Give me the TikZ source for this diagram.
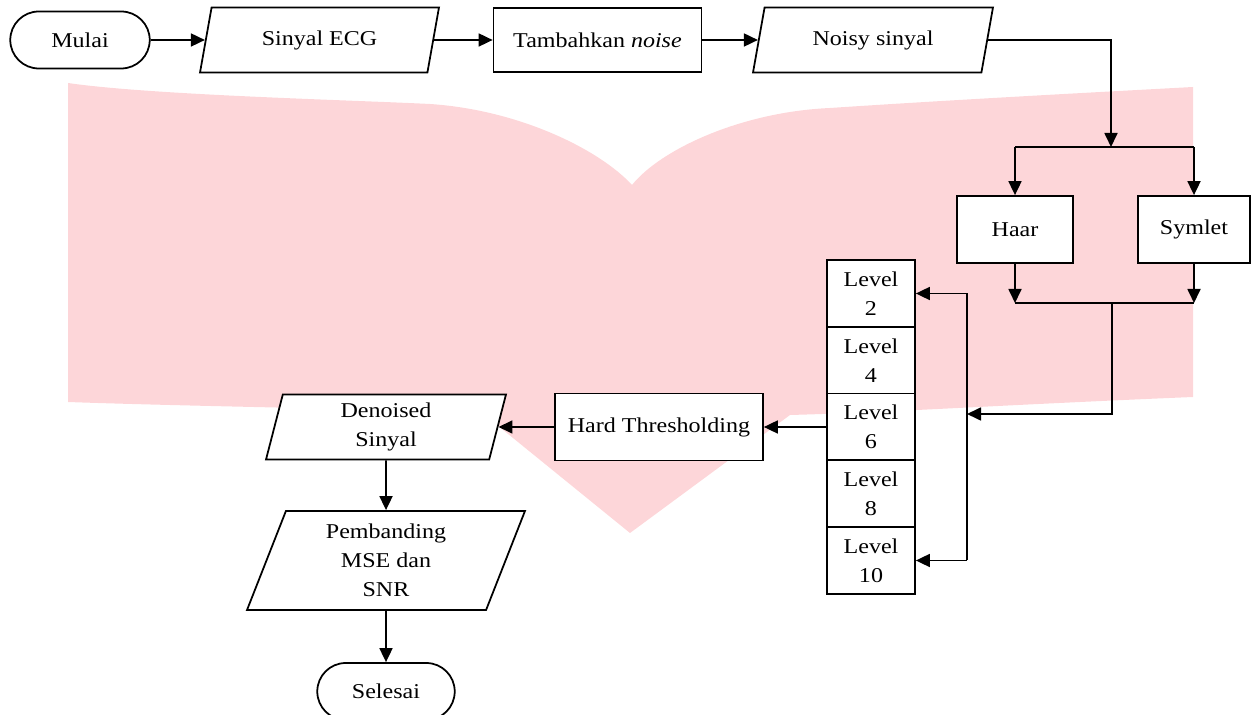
\documentclass[tikz,border=0pt]{standalone}
\usepackage{fontspec}
\setmainfont{Liberation Serif}[FakeStretch=1.14]
\usepackage{tikz}
\usetikzlibrary{shapes.geometric,shapes.misc,arrows.meta}
\definecolor{wmark}{RGB}{253,214,217}

\begin{document}
\begin{tikzpicture}[
    x=0.02cm,y=-0.02cm,
    base/.style={draw, fill=white, line width=1pt, align=center, inner sep=1pt,
      font=\fontsize{12}{16.5}\selectfont},
    box/.style={base, rectangle},
    term/.style={base, rounded rectangle, minimum width=2.86cm, minimum height=1.14cm},
    io/.style={base, trapezium, trapezium left angle=#1, trapezium right angle=180-#1,
      trapezium stretches body},
    arr/.style={line width=1pt, -{Triangle[length=2.8mm,width=2.6mm]}},
    line/.style={line width=1pt}
    ]
    \useasboundingbox (0,0) rectangle (1255,715);
    % watermark behind the chart
    \fill[wmark] (68,83) .. controls (150,95) and (350,100) .. (430,104)
      .. controls (520,110) and (600,150) .. (632,185)
      .. controls (660,150) and (740,112) .. (830,108)
      .. controls (950,100) and (1100,92) .. (1193,87)
      -- (1193,397) .. controls (1000,405) and (900,412) .. (790,415)
      -- (630,533) -- (481,412) .. controls (300,408) and (150,405) .. (68,402) -- cycle;

    % top row
    \node[term] (mulai) at (80,40) {Mulai};
    \node[io=63, minimum width=4.78cm, minimum height=1.30cm] (ecg) at (319.5,40) {Sinyal ECG};
    \node[box, minimum width=4.16cm, minimum height=1.28cm] (tambah) at (597.5,40) {Tambahkan \textit{noise}};
    \node[io=63, minimum width=4.80cm, minimum height=1.30cm] (noisy) at (873,40) {Noisy sinyal};

    % wavelets
    \node[box, minimum width=2.32cm, minimum height=1.34cm] (haar) at (1015,229.5) {Haar};
    \node[box, minimum width=2.24cm, minimum height=1.34cm] (symlet) at (1194,229.5) {Symlet};

    % levels
    \node[box, minimum width=1.76cm, minimum height=1.34cm] (lv2) at (871,293.5) {Level\\2};
    \node[box, minimum width=1.76cm, minimum height=1.34cm] (lv4) at (871,360.5) {Level\\4};
    \node[box, minimum width=1.76cm, minimum height=1.34cm] (lv6) at (871,427) {Level\\6};
    \node[box, minimum width=1.76cm, minimum height=1.34cm] (lv8) at (871,493.5) {Level\\8};
    \node[box, minimum width=1.76cm, minimum height=1.34cm] (lv10) at (871,560.5) {Level\\10};

    % bottom part
    \node[box, minimum width=4.16cm, minimum height=1.34cm] (hard) at (659,427) {Hard Thresholding};
    \node[io=72, minimum width=4.80cm, minimum height=1.30cm] (denoised) at (386,427) {Denoised\\Sinyal};
    \node[io=63, minimum width=5.56cm, minimum height=1.98cm] (banding) at (386,560.5) {Pembanding\\MSE dan\\SNR};
    \node[term, minimum width=2.82cm] (selesai) at (386,691.5) {Selesai};

    \coordinate (split) at (1111,147);
    \coordinate (join) at (1112,303);
    \coordinate (bus) at (967,414);

    \draw[arr] (mulai.east) -- (ecg.west);
    \draw[arr] (ecg.east) -- (tambah.west);
    \draw[arr] (tambah.east) -- (noisy.west);
    \draw[arr] (noisy.east) -| (split);
    \draw[line] (haar.north |- split) -- (symlet.north |- split);
    \draw[arr] (haar.north |- split) -- (haar.north);
    \draw[arr] (symlet.north |- split) -- (symlet.north);

    \draw[arr] (haar.south) -- (haar.south |- join);
    \draw[arr] (symlet.south) -- (symlet.south |- join);
    \draw[line] (haar.south |- join) -- (symlet.south |- join);
    \draw[arr] (join) |- (bus);

    \draw[line] (bus |- lv2.east) -- (bus |- lv10.east);
    \draw[arr] (bus |- lv2.east) -- (lv2.east);
    \draw[arr] (bus |- lv10.east) -- (lv10.east);

    \draw[arr] (lv6.west) -- (hard.east);
    \draw[arr] (hard.west) -- (denoised.east);
    \draw[arr] (denoised.south) -- (banding.north);
    \draw[arr] (banding.south) -- (selesai.north);
  \end{tikzpicture}
\end{document}
